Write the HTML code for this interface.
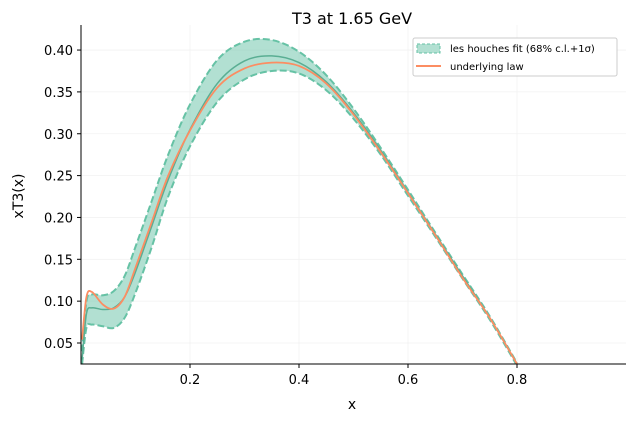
<!DOCTYPE html>
<html><head><meta charset="utf-8"><style>
body{margin:0;background:#fff;font-family:"DejaVu Sans","Liberation Sans",sans-serif}
svg text{font-family:"DejaVu Sans","Liberation Sans",sans-serif}
</style></head><body>
<svg id="c" width="632" height="420" xmlns="http://www.w3.org/2000/svg">
<defs><clipPath id="clip"><rect x="81" y="25" width="545" height="339"/></clipPath></defs>
<g id="grid"></g>
<g id="marks" clip-path="url(#clip)"></g>
<g id="axes"></g>
<text x="352" y="24" font-size="16" text-anchor="middle">T3 at 1.65 GeV</text>
<text x="352" y="409" font-size="14" text-anchor="middle">x</text>
<text transform="translate(23,196) rotate(-90)" font-size="14" text-anchor="middle">xT3(x)</text>
<g>
<rect x="413" y="38" width="204" height="38" fill="#fff" stroke="#ccc" rx="2"/>
<rect x="417" y="44" width="23" height="9" fill="#66c2a5" fill-opacity="0.5" stroke="#66c2a5" stroke-dasharray="3,2"/>
<text x="450" y="52" font-size="10">les houches fit (68% c.l.+1σ)</text>
<line x1="416" y1="66" x2="441" y2="66" stroke="#fc8d62" stroke-width="2"/>
<text x="450" y="70" font-size="10">underlying law</text>
</g>
</svg>
<script>
const xs=[0.002,0.01,0.02,0.04,0.06,0.08,0.1,0.13,0.16,0.2,0.25,0.3,0.35,0.4,0.45,0.5,0.55,0.6,0.65,0.7,0.75,0.8];
const central=[0.03,0.085,0.092,0.090,0.092,0.105,0.135,0.19,0.245,0.305,0.36,0.387,0.393,0.385,0.362,0.325,0.28,0.23,0.18,0.13,0.08,0.025];
const upper=[0.04,0.1,0.108,0.107,0.112,0.13,0.165,0.22,0.275,0.335,0.388,0.41,0.412,0.398,0.37,0.33,0.283,0.233,0.182,0.132,0.082,0.026];
const lower=[0.025,0.068,0.072,0.070,0.068,0.08,0.11,0.165,0.225,0.285,0.338,0.365,0.375,0.372,0.352,0.318,0.275,0.226,0.177,0.127,0.078,0.023];
const law=[0.054,0.105,0.111,0.096,0.091,0.105,0.14,0.195,0.25,0.304,0.355,0.378,0.385,0.381,0.36,0.323,0.278,0.229,0.179,0.128,0.08,0.025];
const xTicks=[0.2,0.4,0.6,0.8];
const yTicks=[0.05,0.10,0.15,0.20,0.25,0.30,0.35,0.40];
const X=v=>81+v*545, Y=v=>343-(v-0.05)*837;
const NS="http://www.w3.org/2000/svg";
function mk(t,a,p){const e=document.createElementNS(NS,t);for(const k in a)e.setAttribute(k,a[k]);p.appendChild(e);return e;}
function pts(ys){return xs.map((x,i)=>[X(x),Y(ys[i])]);}
function smooth(p,move=true){let d=(move?"M":"L")+p[0][0]+","+p[0][1];
for(let i=0;i<p.length-1;i++){const p0=p[Math.max(i-1,0)],p1=p[i],p2=p[i+1],p3=p[Math.min(i+2,p.length-1)];
d+=" C"+(p1[0]+(p2[0]-p0[0])/6)+","+(p1[1]+(p2[1]-p0[1])/6)+" "+(p2[0]-(p3[0]-p1[0])/6)+","+(p2[1]-(p3[1]-p1[1])/6)+" "+p2[0]+","+p2[1];}return d;}
const g=document.getElementById('grid'),m=document.getElementById('marks'),ax=document.getElementById('axes');
yTicks.forEach(v=>{const l=mk('line',{x1:81,x2:626,y1:Y(v),y2:Y(v),stroke:'#f2f2f2','stroke-width':0.8},g);
});
xTicks.forEach(v=>{const l=mk('line',{x1:X(v),x2:X(v),y1:25,y2:364,stroke:'#f2f2f2','stroke-width':0.8},g);
});
const up=pts(upper),lo=pts(lower).reverse();
const band=mk('path',{d:smooth(up)+" "+smooth(lo,false)+" Z",fill:'#66c2a5','fill-opacity':0.5,stroke:'none'},m);

[[upper,'fit-upper-bound'],[lower,'fit-lower-bound']].forEach(([s,n])=>{const e=mk('path',{d:smooth(pts(s)),fill:'none',stroke:'#66c2a5','stroke-width':2,'stroke-dasharray':'7,3'},m);
});
const c=mk('path',{d:smooth(pts(central)),fill:'none',stroke:'#5aae93','stroke-width':1.5},m);

const lw=mk('path',{d:smooth(pts(law)),fill:'none',stroke:'#fc8d62','stroke-width':1.8},m);

const ls=mk('line',{x1:81,x2:81,y1:25,y2:364.5,stroke:'#000','stroke-width':1},ax);

const bs=mk('line',{x1:80.5,x2:626,y1:364,y2:364,stroke:'#000','stroke-width':1},ax);

xTicks.forEach(v=>{const t=mk('line',{x1:X(v),x2:X(v),y1:364,y2:368,stroke:'#000'},ax);

const tx=mk('text',{x:X(v),y:384,'font-size':13,'text-anchor':'middle'},ax);tx.textContent=v.toFixed(1);
});
yTicks.forEach(v=>{const t=mk('line',{x1:77,x2:81,y1:Y(v),y2:Y(v),stroke:'#000'},ax);

const tx=mk('text',{x:73,y:Y(v)+5,'font-size':13,'text-anchor':'end'},ax);tx.textContent=v.toFixed(2);
});
</script>
</body></html>
